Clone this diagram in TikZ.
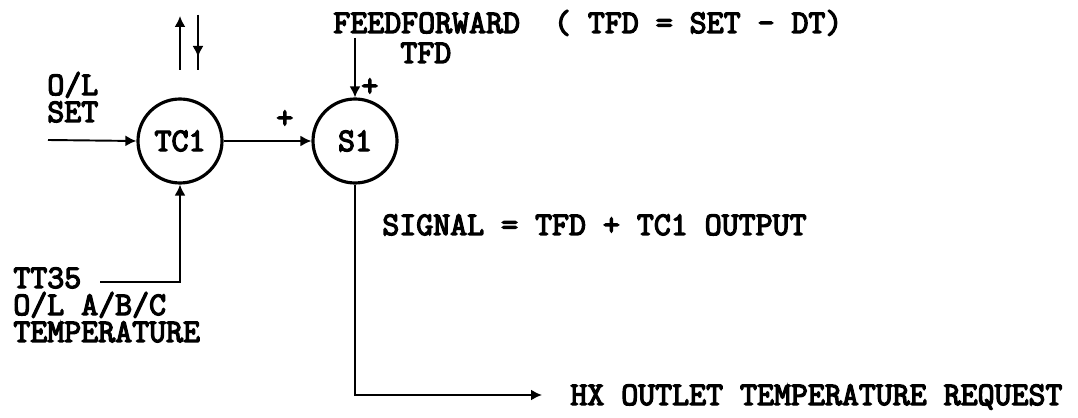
\documentclass[tikz,border=0pt]{standalone}
\usepackage{fontspec}
\usetikzlibrary{arrows.meta,positioning}
\newfontfamily\plotfont[FakeBold=4]{Latin Modern Mono}
\begin{document}
\begin{tikzpicture}[
    x=0.2mm, y=-0.2mm,
    >={Latex[length=2.2mm,width=2.2mm]},
    ctrl/.style={
        circle,
        draw,
        line width=1.8pt,
        minimum size=1.68cm,
        inner sep=0pt,
        font=\plotfont\fontsize{18.75}{15.36}\selectfont
    },
    sig/.style={line width=1.1pt},
    lbl/.style={
        inner sep=0pt,
        align=left,
        anchor=base west,
        font=\plotfont\fontsize{18.75}{15.36}\selectfont
    }
]
\useasboundingbox (0,0) rectangle (1078,418);

% controller and summer
\node[ctrl] (tc1) at (180,141) {TC1};
\node[ctrl] (s1)  at (355,141) {S1};

% texts (base = last line)
\node[lbl] (olset)  at (47,122)  {O/L\\SET};
\node[lbl] (ffwd)   at (333,33)  {FEEDFORWARD\ \ ( TFD = SET - DT)};
\node[lbl] (tfd)    at (400,63)  {TFD};
\node[lbl] (signal) at (382,235) {SIGNAL = TFD + TC1 OUTPUT};
\node[lbl] (tt35)   at (13,342)  {TT35\\O/L A/B/C\\TEMPERATURE};
\node[lbl] (hxreq)  at (570,405) {HX OUTLET TEMPERATURE REQUEST};
\node[lbl] (plusa)  at (276,128) {+};
\node[lbl] (plusb)  at (361,96)  {+};

% free ends of the signal lines
\coordinate (setin)  at (48,140);
\coordinate (upbot)  at (180,70);
\coordinate (uptop)  at (180,16);
\coordinate (dntop)  at (198,15);
\coordinate (dnmid)  at (198,57);
\coordinate (dnbot)  at (198,70);
\coordinate (ffin)   at (355,38);
\coordinate (ttin)   at (100,282);
\coordinate (hxturn) at (355,395);
\coordinate (hxend)  at (542,395);

% signal lines
\draw[sig,->] (setin) -- (tc1.west);
\draw[sig,->] (tc1.east) -- (s1.west);
\draw[sig,->] (upbot) -- (uptop);
\draw[sig] (dntop) -- (dnbot);
\draw[sig,->] (dntop) -- (dnmid);
\draw[sig,->] (ffin) -- (s1.north);
\draw[sig,->] (ttin) -| (tc1.south);
\draw[sig,->] (s1.south) -- (hxturn) -- (hxend);

\end{tikzpicture}
\end{document}
